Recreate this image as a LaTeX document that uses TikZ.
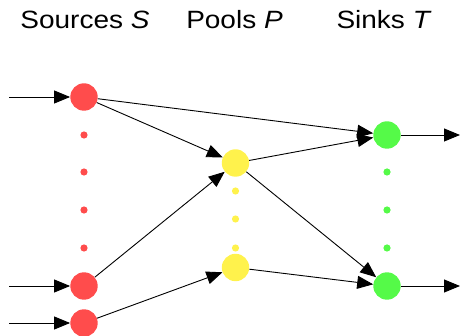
\documentclass[tikz,border=0pt]{standalone}
\usepackage{fontspec}
\setmainfont{Liberation Sans}[FakeStretch=1.12]
\usetikzlibrary{arrows.meta}
\definecolor{srccol}{RGB}{255,76,76}
\definecolor{poolcol}{RGB}{255,242,76}
\definecolor{sinkcol}{RGB}{85,250,72}
\tikzset{
  x=1pt, y=-1pt,
  vertex/.style={circle, inner sep=0pt, minimum size=27.4pt, fill=#1},
  tick/.style={circle, inner sep=0pt, minimum size=7.2pt, fill=#1},
  flow/.style={line width=0.9pt, -{Triangle[length=16pt,width=13pt]}},
  head/.style={font=\fontsize{25}{30}\selectfont, anchor=base}
}
\begin{document}
\begin{tikzpicture}
\useasboundingbox (0,0) rectangle (460,336);

% column headings
\node[head] (hS) at (85,29) {Sources \textit{S}};
\node[head] (hP) at (234.5,29) {Pools \textit{P}};
\node[head] (hT) at (384,29) {Sinks \textit{T}};

% sources
\node[vertex=srccol] (s1) at (84,97) {};
\node[vertex=srccol] (s2) at (84,286) {};
\node[vertex=srccol] (s3) at (84,323) {};
\foreach \y [count=\i] in {135,172,210,248}
  \node[tick=srccol] (sd\i) at (84,\y) {};

% pools
\node[vertex=poolcol] (p1) at (235.5,163) {};
\node[vertex=poolcol] (p2) at (235.5,267.5) {};
\foreach \y [count=\i] in {191,219,248}
  \node[tick=poolcol] (pd\i) at (235.5,\y) {};

% sinks
\node[vertex=sinkcol] (t1) at (387,135) {};
\node[vertex=sinkcol] (t2) at (387,286) {};
\foreach \y [count=\i] in {172,210,248}
  \node[tick=sinkcol] (td\i) at (387,\y) {};

% free ends of the feed and product lines
\coordinate (in1) at (9,97);
\coordinate (in2) at (9,286);
\coordinate (in3) at (9,323);
\coordinate (out1) at (460,135);
\coordinate (out2) at (460,286);

% feeds
\draw[flow] (in1) -- (s1);
\draw[flow] (in2) -- (s2);
\draw[flow] (in3) -- (s3);

% network arcs
\draw[flow] (s1) -- (t1);
\draw[flow] (s1) -- (p1);
\draw[flow] (s2) -- (p1);
\draw[flow] (s3) -- (p2);
\draw[flow] (p1) -- (t1);
\draw[flow] (p1) -- (t2);
\draw[flow] (p2) -- (t2);

% products
\draw[flow] (t1) -- (out1);
\draw[flow] (t2) -- (out2);
\end{tikzpicture}
\end{document}
